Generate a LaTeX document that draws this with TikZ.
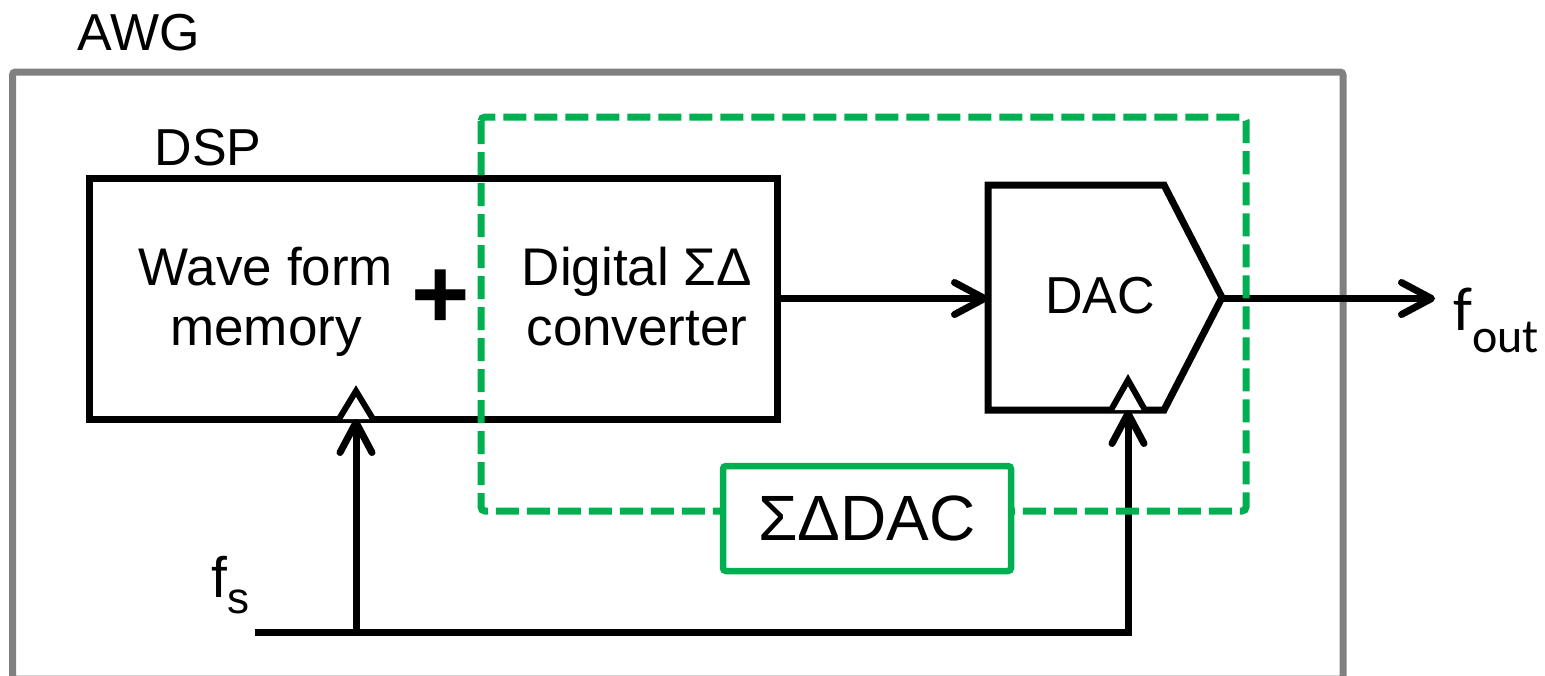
\documentclass[tikz,border=0pt]{standalone}
\usepackage{fontspec}
\setmainfont{Liberation Sans}
\newfontfamily\calibfont{Carlito}
\usetikzlibrary{arrows.meta}
\definecolor{sdgreen}{HTML}{00B050}
\definecolor{awggray}{HTML}{808080}
\begin{document}
\begin{tikzpicture}[x=1pt,y=-1pt,
  blk/.style={draw=black, line width=7pt, inner sep=0pt, outer sep=0pt},
  wire/.style={draw=black, line width=7pt},
  tip/.style={-{Straight Barb[length=30pt,width=32pt,round]}},
  lbl/.style={inner sep=0pt, outer sep=0pt, font=\fontsize{52}{60}\selectfont},
  clktri/.style={draw=black, line width=6pt, fill=white, line join=miter},
]
\useasboundingbox (0,0) rectangle (1545,675);

% outer AWG frame
\draw[awggray, line width=7pt, rounded corners=3pt] (12.5,72) rectangle (1343,679);
\node[lbl, anchor=base] (awg) at (139,50) {AWG};

% DSP block
\node[blk, minimum width=688pt, minimum height=241pt] (dsp) at (433,298.5) {};
\node[lbl, anchor=base] (dsplbl) at (208,165) {DSP};
\node[lbl, align=center, font=\fontsize{53}{60}\selectfont, anchor=base] (wfm) at (266,345) {Wave form\\memory};
\node[inner sep=0pt, font=\bfseries\fontsize{100}{100}\selectfont] (plus) at (441,299) {+};
\node[lbl, align=center, font=\fontsize{53}{60}\selectfont, anchor=base] (dsm) at (637,345) {Digital ΣΔ\\converter};

% DAC block
\draw[blk, line join=miter] (988,185) -- (1164,185) -- (1222,297.5) -- (1164,410) -- (988,410) -- cycle;
\node[lbl, anchor=base] (dac) at (1100,313) {DAC};
\coordinate (dacin) at (988,298.5);
\coordinate (dacout) at (1222,298.5);
\coordinate (dacclk) at (1128,410);
\coordinate (foutend) at (1435,298.5);

% clock inputs
\draw[clktri] (339,419) -- (356,391) -- (373,419);
\draw[clktri] (1111,410) -- (1128,380) -- (1145,410);
\coordinate (fsstart) at (255,632);
\coordinate (clkjoin) at (356,632);

% signal path
\draw[wire, tip] (dsp.east) -- (dacin);
\draw[wire, tip] (dacout) -- (foutend);
\node[inner sep=0pt, anchor=base west, font=\calibfont\fontsize{62}{62}\selectfont] (fout) at (1453,330) {f\raisebox{-22pt}{\fontsize{48}{48}\selectfont out}};

% clock distribution
\draw[wire, tip] (fsstart) -| (dacclk);
\draw[wire, tip] (clkjoin) -- (clkjoin |- dsp.south);
\node[inner sep=0pt, anchor=base west, font=\fontsize{57}{57}\selectfont] (fs) at (211,597) {f\raisebox{-16pt}{\fontsize{44}{44}\selectfont s}};

% sigma-delta DAC grouping
\draw[sdgreen, line width=7pt, dash pattern=on 23pt off 8pt, rounded corners=4pt] (481,117) rectangle (1246,511);
\node[draw=sdgreen, line width=6.5pt, fill=white, rounded corners=3pt, inner sep=0pt,
  minimum width=288pt, minimum height=105pt, font=\fontsize{64}{64}\selectfont] (sddac) at (867,518.5) {ΣΔDAC};
\end{tikzpicture}
\end{document}
